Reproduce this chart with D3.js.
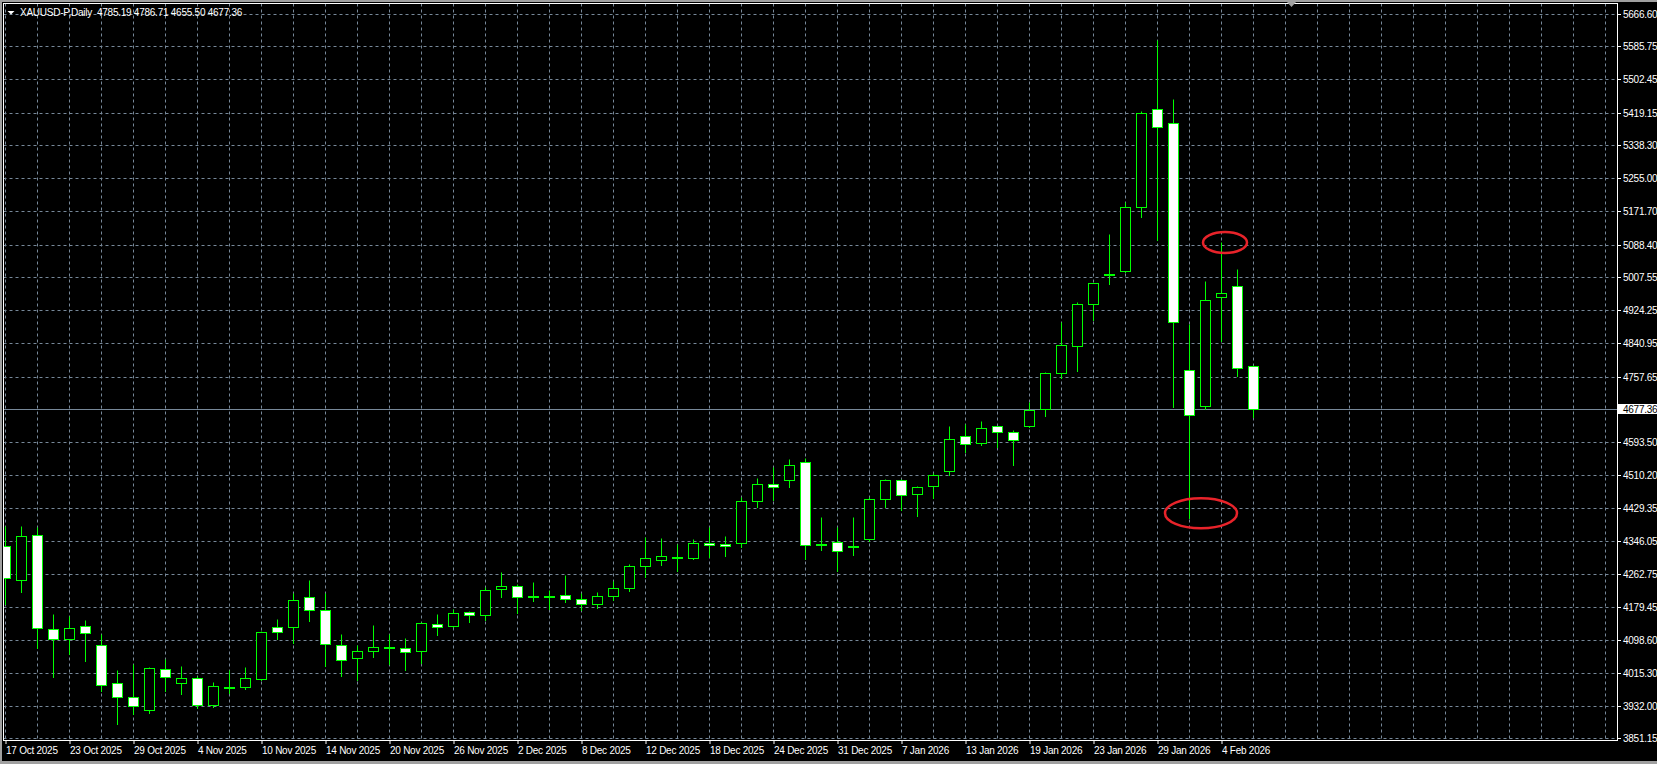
<!DOCTYPE html>
<html>
<head>
<meta charset="utf-8">
<script src="https://cdn.jsdelivr.net/npm/d3@7"></script>
<style>
  html, body { margin: 0; padding: 0; background: #000; }
  svg { display: block; }
  text { font-family: "Liberation Sans", Arial, sans-serif; font-size: 10px; letter-spacing: -0.25px; white-space: pre; }
</style>
</head>
<body>
<svg width="1657" height="764"></svg>
<script>
// Daily XAUUSD-P bars
var dates = [
    '2025-10-17','2025-10-20','2025-10-21','2025-10-22','2025-10-23','2025-10-24','2025-10-27','2025-10-28','2025-10-29','2025-10-30','2025-10-31',
    '2025-11-03','2025-11-04','2025-11-05','2025-11-06','2025-11-07','2025-11-10','2025-11-11','2025-11-12','2025-11-13','2025-11-14',
    '2025-11-17','2025-11-18','2025-11-19','2025-11-20','2025-11-21','2025-11-24','2025-11-25','2025-11-26','2025-11-27','2025-11-28',
    '2025-12-01','2025-12-02','2025-12-03','2025-12-04','2025-12-05','2025-12-08','2025-12-09','2025-12-10','2025-12-11','2025-12-12',
    '2025-12-15','2025-12-16','2025-12-17','2025-12-18','2025-12-19','2025-12-22','2025-12-23','2025-12-24','2025-12-26','2025-12-29',
    '2025-12-30','2025-12-31','2026-01-02','2026-01-05','2026-01-06','2026-01-07','2026-01-08','2026-01-09','2026-01-12','2026-01-13',
    '2026-01-14','2026-01-15','2026-01-16','2026-01-19','2026-01-20','2026-01-21','2026-01-22','2026-01-23','2026-01-26','2026-01-27',
    '2026-01-28','2026-01-29','2026-01-30','2026-02-02','2026-02-03','2026-02-04','2026-02-05','2026-02-06'
];

var open = [
    4334.1, 4247.3, 4360.2, 4126.0, 4099.4, 4132.0, 4084.3, 3989.1, 3954.0, 3921.4,
    4024.2, 3989.1, 4001.6, 3933.9, 3976.0, 3979.0, 3999.1, 4129.5, 4129.5, 4204.7,
    4172.1, 4084.3, 4051.8, 4069.3, 4080.0, 4076.8, 4070.8, 4137.0, 4133.5, 4167.1,
    4161.1, 4226.3, 4232.3, 4206.0, 4208.5, 4209.7, 4200.0, 4188.0, 4207.0, 4228.0,
    4283.9, 4299.0, 4305.5, 4304.0, 4340.1, 4338.4, 4341.6, 4446.9, 4488.1, 4499.6,
    4543.2, 4338.8, 4344.1, 4333.8, 4351.6, 4450.4, 4498.1, 4463.0, 4483.0, 4520.6,
    4608.4, 4590.9, 4633.5, 4618.5, 4633.5, 4676.1, 4766.4, 4834.1, 4940.9, 5013.3,
    5022.2, 5182.6, 5428.4, 5393.3, 4773.9, 4683.6, 4957.0, 4983.6, 4785.19
];
var high = [
    4383.5, 4383.5, 4381.7, 4162.1, 4157.8, 4147.8, 4111.9, 4022.4, 4036.7, 4029.2,
    4049.3, 4032.4, 4007.4, 3992.3, 4022.4, 4029.9, 4120.2, 4150.3, 4216.2, 4248.1,
    4214.7, 4112.7, 4085.1, 4135.2, 4112.7, 4102.6, 4142.8, 4162.1, 4174.6, 4169.6,
    4230.5, 4268.2, 4238.1, 4243.1, 4223.0, 4260.6, 4215.0, 4218.0, 4245.0, 4288.2,
    4355.2, 4353.4, 4338.4, 4350.1, 4381.7, 4358.4, 4457.0, 4503.9, 4532.2, 4551.5,
    4553.3, 4406.1, 4381.7, 4406.1, 4457.0, 4501.3, 4502.1, 4483.0, 4517.1, 4634.2,
    4638.5, 4646.8, 4634.2, 4624.2, 4695.2, 4770.4, 4894.3, 4944.4, 4992.9, 5115.7,
    5195.2, 5422.4, 5602.2, 5454.2, 4890.0, 4997.8, 5093.9, 5027.9, 4786.71
];
var low = [
    4187.2, 4218.8, 4076.8, 4005.6, 4062.5, 4045.7, 3970.5, 3887.8, 3912.1, 3915.4,
    3970.5, 3963.0, 3926.4, 3930.4, 3965.5, 3975.5, 3996.1, 4099.4, 4090.9, 4146.0,
    4032.4, 4008.1, 3997.3, 4055.8, 4037.4, 4022.4, 4040.7, 4110.9, 4131.0, 4143.5,
    4147.8, 4206.2, 4164.6, 4196.2, 4176.1, 4193.7, 4172.0, 4178.0, 4198.0, 4220.5,
    4256.4, 4285.7, 4271.4, 4300.7, 4306.5, 4309.0, 4331.6, 4431.1, 4448.7, 4481.3,
    4301.5, 4323.3, 4271.4, 4311.5, 4345.1, 4431.1, 4423.6, 4409.3, 4453.0, 4512.1,
    4569.8, 4586.6, 4582.3, 4537.2, 4631.0, 4660.1, 4754.6, 4772.9, 4900.8, 4991.1,
    5020.4, 5159.0, 5100.6, 4682.6, 4402.8, 4676.1, 4847.4, 4760.4, 4655.50
];
var close = [
    4252.4, 4357.7, 4127.0, 4099.4, 4127.0, 4114.4, 3984.0, 3954.0, 3931.4, 4026.7,
    4004.1, 4001.6, 3933.9, 3981.5, 3978.5, 4001.6, 4116.9, 4116.9, 4197.2, 4172.1,
    4086.9, 4046.7, 4069.3, 4079.3, 4081.0, 4066.8, 4139.5, 4131.0, 4164.6, 4159.6,
    4222.3, 4232.3, 4206.2, 4207.0, 4209.0, 4199.7, 4188.0, 4207.0, 4228.0, 4282.4,
    4302.5, 4307.5, 4306.0, 4340.1, 4335.1, 4333.4, 4445.4, 4488.1, 4482.0, 4535.7,
    4335.1, 4339.4, 4320.0, 4334.4, 4450.4, 4498.1, 4460.5, 4480.5, 4510.6, 4600.9,
    4588.4, 4628.5, 4618.5, 4598.4, 4673.6, 4766.4, 4836.6, 4939.4, 4992.1, 5013.9,
    5182.6, 5418.3, 5382.2, 4895.8, 4661.0, 4949.4, 4967.0, 4778.9, 4677.36
];

// Price scale labels as printed on the right axis
var priceTicks = [3851.15, 3932.00, 4015.30, 4098.60, 4179.45, 4262.75, 4346.05, 4429.35, 4510.20, 4593.50,
                  4757.65, 4840.95, 4924.25, 5007.55, 5088.40, 5171.70, 5255.00, 5338.30, 5419.15, 5502.45,
                  5585.75, 5666.60];

var symbolTitle = 'XAUUSD-P,Daily';

var svg = d3.select('svg');
var svgWidth = +svg.attr('width');
var svgHeight = +svg.attr('height');

// plot frame
var plot = {l: 3.5, t: 3.5, r: 1617.5, b: 740.5};

// one bar every 16px, grid every 2 bars
var x = d3.scaleLinear().domain([0, 100]).range([5.5, 1605.5]);
var y = d3.scaleLinear().domain([3851.15, 5666.60]).range([738.3, 14]);

function py(v) { return Math.round(y(v)) + 0.5; }

var parseDate = d3.timeParse('%Y-%m-%d');
var fmtDate = d3.timeFormat('%-d %b %Y');
var fmtPrice = d3.format('.2f');

// window edges
svg.append('rect').attr('x', 0).attr('y', 0).attr('width', svgWidth).attr('height', svgHeight).attr('fill', '#000');
svg.append('rect').attr('x', 0).attr('y', 0).attr('width', svgWidth).attr('height', 2).attr('fill', '#a0a0a0');
svg.append('rect').attr('x', 0).attr('y', 0).attr('width', 2).attr('height', svgHeight).attr('fill', '#a0a0a0');
svg.append('rect').attr('x', 0).attr('y', svgHeight - 3).attr('width', svgWidth).attr('height', 3).attr('fill', '#a0a0a0');

svg.append('clipPath').attr('id', 'plotClip')
    .append('rect')
    .attr('x', plot.l + 0.5).attr('y', plot.t + 0.5)
    .attr('width', plot.r - plot.l - 1).attr('height', plot.b - plot.t - 1);

var gridG = svg.append('g').attr('clip-path', 'url(#plotClip)');

// horizontal grid
gridG.selectAll('.hgrid')
    .data(priceTicks)
    .enter().append('line')
    .attr('class', 'hgrid')
    .attr('x1', plot.l).attr('x2', plot.r)
    .attr('y1', d => py(d)).attr('y2', d => py(d))
    .attr('stroke', '#778899')
    .attr('stroke-dasharray', '3,3');

// vertical grid
gridG.selectAll('.vgrid')
    .data(d3.range(0, 101, 2))
    .enter().append('line')
    .attr('class', 'vgrid')
    .attr('x1', d => x(d)).attr('x2', d => x(d))
    .attr('y1', plot.t).attr('y2', plot.b)
    .attr('stroke', '#778899')
    .attr('stroke-dasharray', '3,3');

// bid line
var last = close.length - 1;
gridG.append('line')
    .attr('x1', plot.l).attr('x2', plot.r)
    .attr('y1', py(close[last])).attr('y2', py(close[last]))
    .attr('stroke', '#778899');

// candles
var candleG = svg.append('g').attr('clip-path', 'url(#plotClip)');
var candles = candleG.selectAll('.candle')
    .data(d3.range(dates.length))
    .enter().append('g')
    .attr('class', 'candle');

candles.append('line')
    .attr('x1', i => x(i)).attr('x2', i => x(i))
    .attr('y1', i => py(high[i])).attr('y2', i => py(low[i]) + 0.5)
    .attr('stroke', '#00ff00');

candles.append('rect')
    .attr('x', i => x(i) - 5)
    .attr('y', i => Math.min(py(open[i]), py(close[i])))
    .attr('width', 10)
    .attr('height', i => Math.max(1, Math.abs(py(open[i]) - py(close[i]))))
    .attr('fill', i => close[i] >= open[i] ? '#000' : '#fff')
    .attr('stroke', '#00ff00');

// frame
svg.append('rect')
    .attr('x', plot.l).attr('y', plot.t)
    .attr('width', plot.r - plot.l).attr('height', plot.b - plot.t)
    .attr('fill', 'none')
    .attr('stroke', '#fff');

// price axis
var yAxis = d3.axisRight(y)
    .tickValues(priceTicks)
    .tickFormat(fmtPrice)
    .tickSize(3)
    .tickPadding(2);

var yAxisG = svg.append('g')
    .attr('transform', 'translate(' + (plot.r + 0.5) + ',0)')
    .call(yAxis);
yAxisG.select('.domain').remove();
yAxisG.selectAll('.tick').attr('transform', d => 'translate(0,' + py(d) + ')');
yAxisG.selectAll('.tick line').attr('stroke', '#fff');
yAxisG.selectAll('.tick text')
    .attr('fill', '#fff')
    .attr('font-family', null).attr('font-size', null)
    .attr('x', 5).attr('dy', '0.35em');

// bid price label
svg.append('rect')
    .attr('x', plot.r + 0.5).attr('y', py(close[last]) - 5.5)
    .attr('width', svgWidth - plot.r).attr('height', 10)
    .attr('fill', '#fff');
svg.append('text')
    .attr('x', plot.r + 5.5).attr('y', py(close[last]))
    .attr('dy', '0.35em')
    .attr('fill', '#000')
    .text(fmtPrice(close[last]));

// date axis
var xAxis = d3.axisBottom(x)
    .tickValues(d3.range(0, dates.length, 4))
    .tickFormat(i => fmtDate(parseDate(dates[i])))
    .tickSize(4)
    .tickPadding(2);

var xAxisG = svg.append('g')
    .attr('transform', 'translate(0,' + (plot.b - 0.5) + ')')
    .call(xAxis);
xAxisG.select('.domain').remove();
xAxisG.selectAll('.tick line').attr('stroke', '#fff');
xAxisG.selectAll('.tick text')
    .attr('fill', '#fff')
    .attr('font-family', null).attr('font-size', null)
    .attr('text-anchor', 'start')
    .attr('x', 0)
    .attr('y', 14)
    .attr('dy', null);

// title
svg.append('path')
    .attr('d', 'M7.5,11 L14.5,11 L11,14.5 Z')
    .attr('fill', '#fff');
svg.append('text')
    .attr('x', 20).attr('y', 16)
    .attr('fill', '#fff')
    .text(symbolTitle + '  ' + [open[last], high[last], low[last], close[last]].map(fmtPrice).join(' '));

// chart shift marker
svg.append('path')
    .attr('d', 'M1287,2 L1296,2 L1291.5,7 Z')
    .attr('fill', '#a0a0a0');

// red hand-drawn circles on the screenshot
var marks = [
    {i: 76, price: high[76], dx: 3.5, dy: 0, rx: 22, ry: 10.5},
    {i: 74, price: low[74], dx: 11.5, dy: -5, rx: 36, ry: 15}
];
svg.selectAll('.mark')
    .data(marks)
    .enter().append('ellipse')
    .attr('class', 'mark')
    .attr('cx', d => x(d.i) + d.dx)
    .attr('cy', d => y(d.price) + d.dy)
    .attr('rx', d => d.rx)
    .attr('ry', d => d.ry)
    .attr('fill', 'none')
    .attr('stroke', '#e8232a')
    .attr('stroke-width', 2.5);
</script>
</body>
</html>
